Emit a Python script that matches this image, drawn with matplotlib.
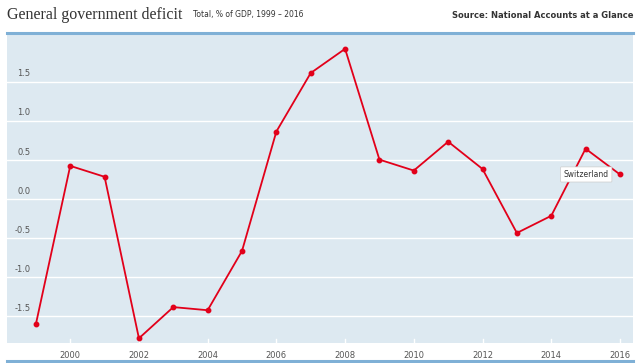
import matplotlib.pyplot as plt
import numpy as np

years = np.arange(1999, 2017)
deficit = [-1.61, 0.42, 0.28, -1.79, -1.39, -1.43, -0.67, 0.86, 1.61, 1.92,
           0.50, 0.36, 0.73, 0.38, -0.44, -0.22, 0.64, 0.31]
y_ticks = [-1.5, -1.0, -0.5, 0.0, 0.5, 1.0, 1.5]
x_ticks = list(range(2000, 2017, 2))
country = 'Switzerland'

W, H = 640, 363
fig = plt.figure(figsize=(W / 100, H / 100), dpi=100)

# plot area in pixels: left 7, right 633, top 34, bottom 343
ax = fig.add_axes([7 / W, 1 - 343 / H, 626 / W, 309 / H])
ax.set_facecolor('#dde9f1')
ax.set_xlim(1998.16, 2016.38)
ax.set_ylim(-1.85, 2.11)
for s in ax.spines.values():
    s.set_visible(False)
ax.set_xticks([])
ax.set_yticks([])

for v in y_ticks:
    ax.axhline(v, color='white', lw=1, zorder=1)
    ax.text(1998.85, v + 0.04, f'{v:.1f}', ha='right', va='bottom',
            fontsize=6, color='#555555', zorder=2)

# small white ticks at bottom + x labels
for yr in x_ticks:
    ax.plot([yr, yr], [-1.85, -1.80], color='white', lw=1, zorder=1)
    ax.text(yr, -1.95, str(yr), ha='center', va='top', fontsize=6,
            color='#555555', clip_on=False)

ax.plot(years, deficit, color='#e2001a', lw=1.3, marker='o', ms=3.2, zorder=3)

# country label box
ax.annotate(country, xy=(years[-1], deficit[-1]), xytext=(-8, 0),
            textcoords='offset points', ha='right', va='center', fontsize=5.5,
            color='#333333',
            bbox=dict(boxstyle='round,pad=0.4,rounding_size=0.1', fc='white',
                      ec='#cccccc', lw=0.5),
            zorder=4)

# top and bottom blue rules
fig.add_artist(plt.Line2D([7 / W, 633 / W], [1 - 33 / H, 1 - 33 / H],
                          color='#7fb0d6', lw=2.2))
fig.add_artist(plt.Line2D([7 / W, 633 / W], [1 - 361 / H, 1 - 361 / H],
                          color='#7fb0d6', lw=2.2))

fig.text(7 / W, 1 - 15 / H, 'General government deficit', family='Liberation Serif',
         fontsize=11.5, color='#333333', va='center', ha='left')
fig.text(193 / W, 1 - 15 / H, 'Total, % of GDP, 1999 – 2016',
         fontsize=5.5, color='#333333', va='center', ha='left',
         family='Liberation Sans Narrow')
fig.text(633 / W, 1 - 15 / H, 'Source: National Accounts at a Glance',
         fontsize=6, color='#333333', va='center', ha='right',
         family='Liberation Sans Narrow', weight='bold')

fig.savefig('out.png', dpi=100)
